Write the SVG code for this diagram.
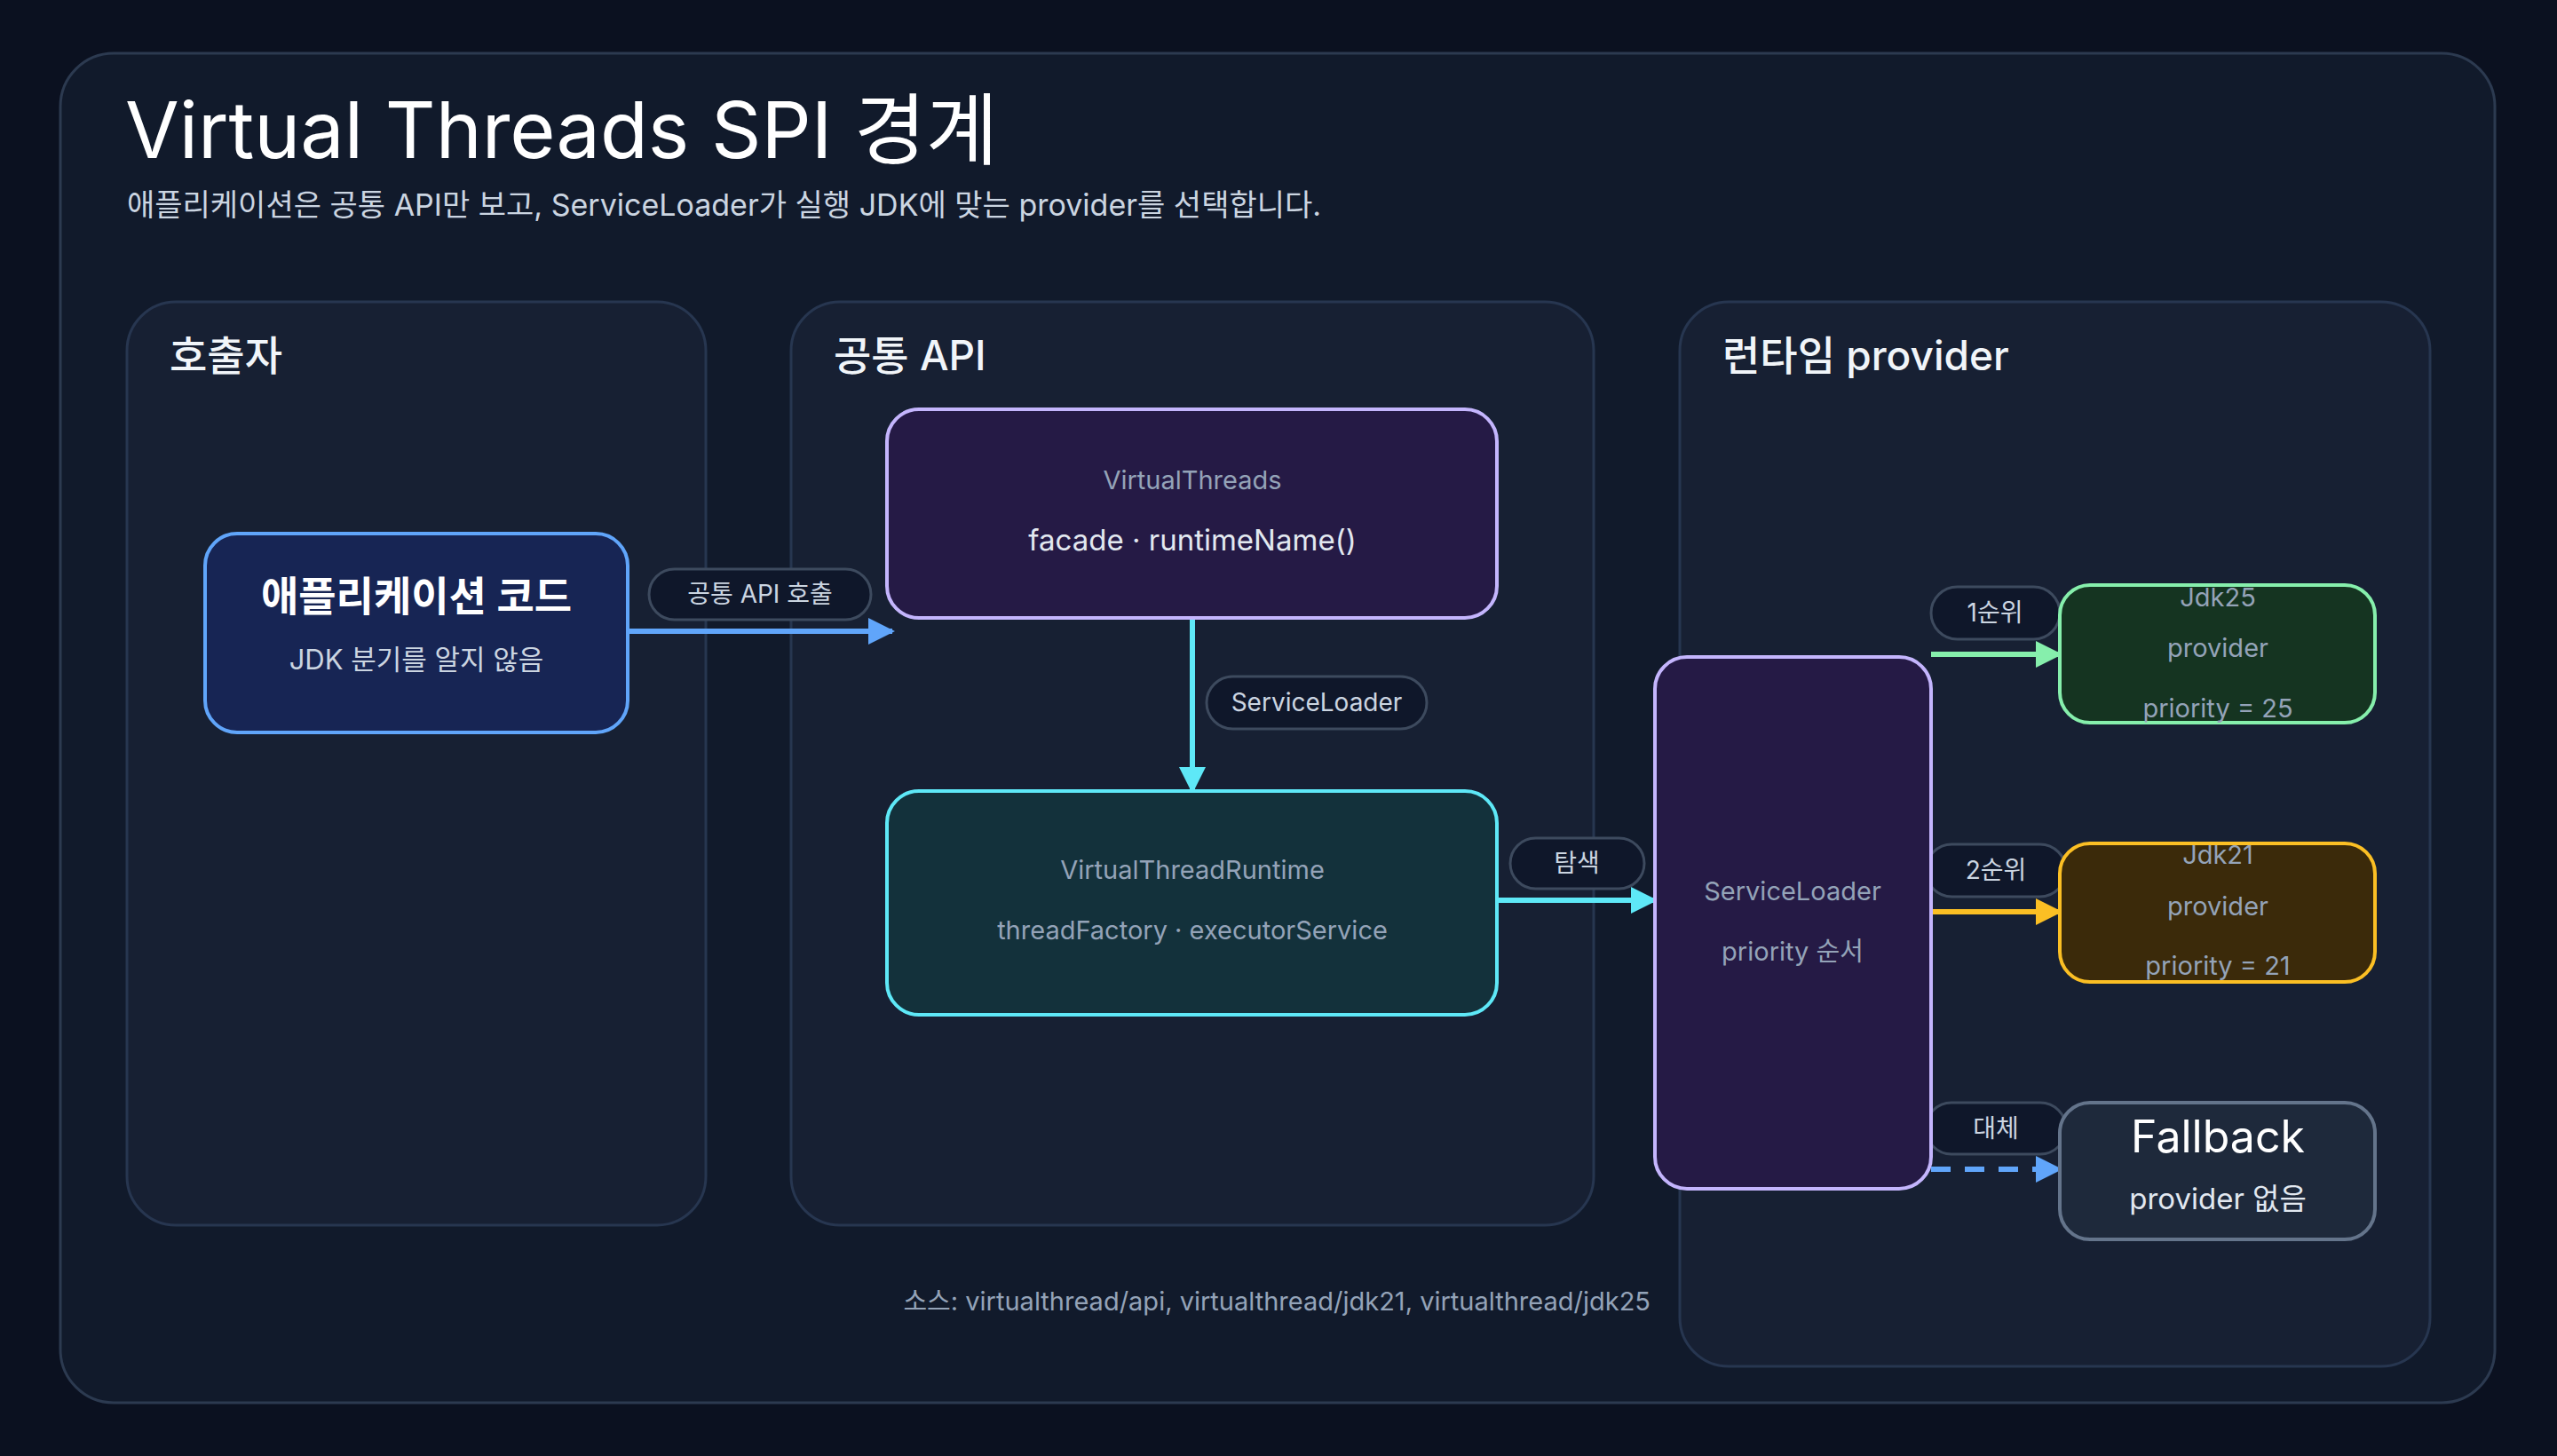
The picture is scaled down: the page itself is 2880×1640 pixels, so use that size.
<svg xmlns="http://www.w3.org/2000/svg" width="2880" height="1640" viewBox="0 0 2880 1640">
<defs>
<style>
text{font-family:Inter,"Noto Sans CJK KR","Noto Sans",sans-serif}
.lane{fill:#172033;stroke:#273650;stroke-width:3}
.lt{fill:#f1f5f9;font-size:46px;font-weight:500}
.g{fill:#94a3b8;font-size:29px;text-anchor:middle}
.pill rect{fill:#0f172a;stroke:#3d4a5e;stroke-width:3}
.pill text{fill:#cbd5e1;font-size:28px;text-anchor:middle}
.c{fill:none;stroke-width:6}
</style>
<marker id="ab" markerUnits="userSpaceOnUse" markerWidth="30" markerHeight="30" viewBox="0 0 10 10" refX="9" refY="5" orient="auto"><path d="M0,0L10,5L0,10z" fill="#60a5fa"/></marker>
<marker id="ac" markerUnits="userSpaceOnUse" markerWidth="30" markerHeight="30" viewBox="0 0 10 10" refX="9" refY="5" orient="auto"><path d="M0,0L10,5L0,10z" fill="#5ee8f7"/></marker>
<marker id="ag" markerUnits="userSpaceOnUse" markerWidth="30" markerHeight="30" viewBox="0 0 10 10" refX="9" refY="5" orient="auto"><path d="M0,0L10,5L0,10z" fill="#86efac"/></marker>
<marker id="ay" markerUnits="userSpaceOnUse" markerWidth="30" markerHeight="30" viewBox="0 0 10 10" refX="9" refY="5" orient="auto"><path d="M0,0L10,5L0,10z" fill="#fbbf24"/></marker>
</defs>
<rect width="2880" height="1640" fill="#0b1120"/>
<rect x="68" y="60" width="2742" height="1520" rx="60" fill="#111a2b" stroke="#2c3a50" stroke-width="3"/>
<text x="141" y="178" fill="#ffffff" font-size="88">Virtual Threads SPI 경계</text>
<text x="143" y="243" fill="#cbd5e1" font-size="34">애플리케이션은 공통 API만 보고, ServiceLoader가 실행 JDK에 맞는 provider를 선택합니다.</text>

<g id="lane-caller"><rect class="lane" x="143" y="340" width="652" height="1040" rx="55"/><text class="lt" x="191" y="417">호출자</text></g>
<g id="lane-api"><rect class="lane" x="891" y="340" width="904" height="1040" rx="55"/><text class="lt" x="939" y="417">공통 API</text></g>
<g id="lane-runtime"><rect class="lane" x="1892" y="340" width="845" height="1199" rx="55"/><text class="lt" x="1940" y="417">런타임 provider</text></g>

<g id="connectors">
<path class="c" d="M707,711H1005" stroke="#60a5fa" marker-end="url(#ab)"/>
<path class="c" d="M1343,696V891" stroke="#5ee8f7" marker-end="url(#ac)"/>
<path class="c" d="M1686,1014H1864" stroke="#5ee8f7" marker-end="url(#ac)"/>
<path class="c" d="M2175,737H2320" stroke="#86efac" marker-end="url(#ag)"/>
<path class="c" d="M2175,1027H2320" stroke="#fbbf24" marker-end="url(#ay)"/>
<path class="c" d="M2175,1317H2320" stroke="#60a5fa" stroke-dasharray="22 16" marker-end="url(#ab)"/>
<g class="pill"><rect x="731" y="641" width="250" height="57" rx="28.5"/><text x="856" y="679">공통 API 호출</text></g>
<g class="pill"><rect x="1359" y="762" width="248" height="59" rx="29.5"/><text x="1483" y="801">ServiceLoader</text></g>
<g class="pill"><rect x="1701" y="944" width="151" height="57" rx="28.5"/><text x="1776" y="982">탐색</text></g>
<g class="pill"><rect x="2175" y="661" width="145" height="59" rx="29.5"/><text x="2247" y="700">1순위</text></g>
<g class="pill"><rect x="2169" y="951" width="158" height="59" rx="29.5"/><text x="2248" y="990">2순위</text></g>
<g class="pill"><rect x="2169" y="1242" width="158" height="58" rx="29"/><text x="2248" y="1281">대체</text></g>
</g>

<g id="app"><rect x="231" y="601" width="476" height="224" rx="36" fill="#172554" stroke="#60a5fa" stroke-width="4"/>
<text x="469" y="688" fill="#fff" font-size="46" font-weight="600" text-anchor="middle">애플리케이션 코드</text>
<text x="469" y="754" fill="#cbd5e1" font-size="31" text-anchor="middle">JDK 분기를 알지 않음</text></g>

<g id="virtualthreads"><rect x="999" y="461" width="687" height="235" rx="36" fill="#251a45" stroke="#c4b5fd" stroke-width="4"/>
<text class="g" x="1343" y="551">VirtualThreads</text>
<text x="1343" y="620" fill="#e2e8f0" font-size="33" text-anchor="middle">facade · runtimeName()</text></g>

<g id="runtime"><rect x="999" y="891" width="687" height="252" rx="36" fill="#13313b" stroke="#5ee8f7" stroke-width="4"/>
<text class="g" x="1343" y="990">VirtualThreadRuntime</text>
<text class="g" x="1343" y="1058">threadFactory · executorService</text></g>

<g id="serviceloader"><rect x="1864" y="740" width="311" height="599" rx="36" fill="#251a45" stroke="#c4b5fd" stroke-width="4"/>
<text class="g" x="2019" y="1014">ServiceLoader</text>
<text class="g" x="2019" y="1082">priority 순서</text></g>

<g id="jdk25"><rect x="2320" y="659" width="355" height="155" rx="34" fill="#153421" stroke="#86efac" stroke-width="4"/>
<text class="g" x="2498" y="683">Jdk25</text><text class="g" x="2498" y="740">provider</text><text class="g" x="2498" y="808">priority = 25</text></g>

<g id="jdk21"><rect x="2320" y="950" width="355" height="156" rx="34" fill="#3b2a0a" stroke="#fbbf24" stroke-width="4"/>
<text class="g" x="2498" y="973">Jdk21</text><text class="g" x="2498" y="1031">provider</text><text class="g" x="2498" y="1098">priority = 21</text></g>

<g id="fallback"><rect x="2320" y="1242" width="355" height="154" rx="34" fill="#1e293b" stroke="#64748b" stroke-width="4"/>
<text x="2498" y="1298" fill="#fff" font-size="50" text-anchor="middle">Fallback</text>
<text x="2498" y="1362" fill="#e2e8f0" font-size="33" text-anchor="middle">provider 없음</text></g>

<text x="1859" y="1476" fill="#94a3b8" font-size="29" text-anchor="end">소스: virtualthread/api, virtualthread/jdk21, virtualthread/jdk25</text>
</svg>
